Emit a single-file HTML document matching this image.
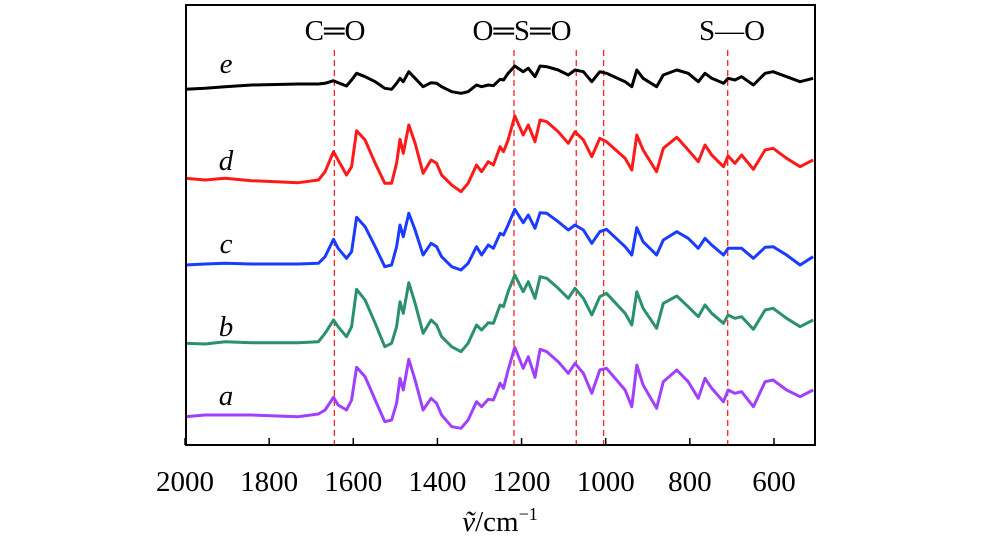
<!DOCTYPE html>
<html><head><meta charset="utf-8"><style>
body{margin:0;background:#fff;}
svg text{font-family:"Liberation Serif",serif;fill:#000;}
</style></head><body>
<svg id="chart" width="1000" height="549" viewBox="0 0 1000 549" xmlns="http://www.w3.org/2000/svg">
<g id="marks"></g>
<rect x="186" y="5" width="629" height="440" fill="none" stroke="#000" stroke-width="2"/>
<g id="axis"></g>
<text x="500" y="531" font-size="29" text-anchor="middle"><tspan font-style="italic">v&#771;</tspan>/cm<tspan dy="-11" font-size="18">−1</tspan></text>
<text x="335" y="40" font-size="29" text-anchor="middle">C═O</text>
<text x="522" y="40" font-size="29" text-anchor="middle">O═S═O</text>
<text x="732" y="40" font-size="29" text-anchor="middle">S—O</text>
</svg>
<script>
const wavenumbers = [2000,1952,1905,1842,1731,1683,1667,1647,1636,1616,1604,1592,1572,1548,1525,1509,1497,1489,1481,1468,1453,1434,1415,1402,1390,1366,1344,1327,1307,1295,1279,1267,1251,
1243,1232,1216,1196,1184,1168,1156,1140,1113,1089,1073,1053,1033,1014,998,954,938,926,911,879,863,831,804,780,764,748,720,709,693,677,649,621,602,570,538,507];
const seriesE = [148,145,140,135,132,132,130,122,128,138,120,100,110,125,145,148,130,115,125,95,115,140,128,130,140,155,160,155,135,140,135,137,118,
120,100,78,95,85,110,78,80,90,105,90,95,125,95,100,125,140,90,115,140,105,90,100,125,100,115,130,115,120,110,135,100,95,110,125,115];
const seriesD = [415,420,415,422,428,420,395,335,360,405,380,272,300,370,430,430,370,298,340,255,310,400,360,370,405,435,455,430,375,395,365,375,320,
335,300,228,285,255,305,240,245,275,310,275,300,350,295,305,355,390,285,330,395,325,292,330,365,315,345,380,348,370,345,388,330,325,355,380,360];
const seriesC = [675,672,670,672,672,670,650,598,625,655,635,532,560,620,680,675,620,555,590,520,570,645,610,620,650,680,690,670,620,645,615,625,580,
585,555,508,548,525,565,518,520,545,570,555,570,610,575,568,620,645,563,605,645,600,575,595,625,595,615,645,625,625,625,655,622,620,645,675,650];
const seriesB = [910,912,905,908,908,905,880,840,860,890,860,748,780,850,920,910,860,785,820,728,790,880,840,855,890,920,935,910,855,870,848,850,795,
800,755,705,755,725,775,710,715,745,775,745,775,825,770,760,820,855,755,805,865,790,768,800,830,795,820,850,825,835,830,868,810,805,835,860,840];
const seriesA = [1130,1125,1125,1125,1130,1122,1110,1072,1095,1110,1080,982,1010,1080,1145,1140,1090,1015,1050,958,1020,1110,1075,1090,1125,1160,1165,1140,1085,1100,1078,1080,1030,
1045,990,922,985,950,1012,928,935,965,1000,970,1000,1060,990,985,1050,1100,975,1035,1105,1025,990,1025,1075,1015,1045,1085,1050,1060,1055,1100,1025,1020,1050,1070,1050];
const seriesNames = ['e','d','c','b','a'];
const seriesColors = ['#000000','#ff1a1a','#1a3cff','#2a9070','#a040ff'];
const xTicks = [2000,1800,1600,1400,1200,1000,800,600];
const refLines = [1645,1218,1070,1005,710];
const labelBaselines = [73,170,253,336,405];

const NS='http://www.w3.org/2000/svg';
function xScale(v){return 185 + (2000 - v) * 0.4207;}
function yScale(v){return 40 + v / 3;}
const marks=document.getElementById('marks');
const axis=document.getElementById('axis');
const all=[seriesE,seriesD,seriesC,seriesB,seriesA];
refLines.forEach(v=>{
  const l=document.createElementNS(NS,'line');
  l.setAttribute('x1',xScale(v));l.setAttribute('x2',xScale(v));
  l.setAttribute('y1',50);l.setAttribute('y2',445);
  l.setAttribute('stroke','#ff2020');l.setAttribute('stroke-width','1.3');l.setAttribute('stroke-dasharray','6,4');
  
  
  marks.appendChild(l);
});
all.forEach((s,i)=>{
  const p=document.createElementNS(NS,'polyline');
  p.setAttribute('points', s.map((v,j)=>xScale(wavenumbers[j]).toFixed(1)+','+yScale(v).toFixed(1)).join(' '));
  p.setAttribute('fill','none');p.setAttribute('stroke',seriesColors[i]);
  p.setAttribute('stroke-width','3');p.setAttribute('stroke-linejoin','round');
  
  
  marks.appendChild(p);
  const t=document.createElementNS(NS,'text');
  t.setAttribute('x',226);t.setAttribute('y',labelBaselines[i]);
  t.setAttribute('font-size','29');t.setAttribute('font-style','italic');t.setAttribute('text-anchor','middle');
  t.textContent=seriesNames[i];
  
  
  marks.appendChild(t);
});
xTicks.forEach(v=>{
  const x=xScale(v);
  const l=document.createElementNS(NS,'line');
  l.setAttribute('x1',x);l.setAttribute('x2',x);l.setAttribute('y1',438);l.setAttribute('y2',445);
  l.setAttribute('stroke','#000');l.setAttribute('stroke-width','1.5');
  
  
  axis.appendChild(l);
  const t=document.createElementNS(NS,'text');
  t.setAttribute('x',x);t.setAttribute('y',491);t.setAttribute('font-size','29');t.setAttribute('text-anchor','middle');
  t.textContent=v;
  
  
  axis.appendChild(t);
});
</script>
</body></html>
